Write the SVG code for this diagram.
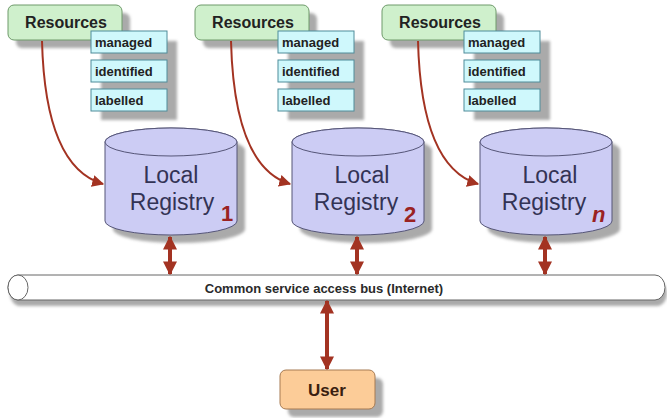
<svg xmlns="http://www.w3.org/2000/svg" width="667" height="418" viewBox="0 0 667 418">
<defs>
<filter id="blur" x="-20%" y="-20%" width="140%" height="140%"><feGaussianBlur stdDeviation="1.5"/></filter>
<marker id="ah" viewBox="0 0 10 10" refX="9" refY="5" markerWidth="3.5" markerHeight="3.5" orient="auto-start-reverse" markerUnits="strokeWidth"><path d="M0,0 L10,5 L0,10 z" fill="#A33322"/></marker>
<marker id="ahc" viewBox="0 0 10 10" refX="9" refY="5" markerWidth="6" markerHeight="6" orient="auto" markerUnits="strokeWidth"><path d="M0,0 L10,5 L0,10 z" fill="#A33322"/></marker>
</defs>
<style>
.res{fill:#CFF0CC;stroke:#6E9A6A;stroke-width:1}
.tag{fill:#CFF8FC;stroke:#4F8C9A;stroke-width:1}
.sh{fill:#AAAAAA;filter:url(#blur)}
.cyl{fill:#CCCCF4;stroke:#555577;stroke-width:1}
.t1{font-family:"Liberation Sans",Arial,sans-serif;font-weight:bold;fill:#222222}
.tg{font-family:"Liberation Sans",Arial,sans-serif;font-weight:bold;fill:#222222;font-size:13px}
.big{font-family:"Liberation Sans",Arial,sans-serif;font-size:23px;fill:#333355}
.sub{font-family:"Liberation Sans",Arial,sans-serif;font-size:22px;font-weight:bold;fill:#9A2222}
.con{fill:none;stroke:#A33322;stroke-width:2}
.dbl{fill:none;stroke:#A33322;stroke-width:4}
</style>

<g id="resources1">
<rect class="sh" x="16" y="13" width="114" height="35" rx="6"/>
<rect class="res" x="8" y="5" width="114" height="35" rx="6"/>
<text class="t1" x="66" y="27.5" font-size="16" text-anchor="middle">Resources</text>
</g>
<g id="tags1">
<rect class="sh" x="101" y="41" width="76" height="79"/>
<rect class="tag" x="91" y="31" width="76" height="22"/>
<text class="tg" x="95" y="46.5">managed</text>
<rect class="tag" x="91" y="60" width="76" height="22"/>
<text class="tg" x="95" y="75.5">identified</text>
<rect class="tag" x="91" y="89" width="76" height="22"/>
<text class="tg" x="95" y="104.5">labelled</text>
</g>

<g id="resources2">
<rect class="sh" x="203" y="13" width="114" height="35" rx="6"/>
<rect class="res" x="195" y="5" width="114" height="35" rx="6"/>
<text class="t1" x="253" y="27.5" font-size="16" text-anchor="middle">Resources</text>
</g>
<g id="tags2">
<rect class="sh" x="288" y="41" width="76" height="79"/>
<rect class="tag" x="278" y="31" width="76" height="22"/>
<text class="tg" x="282" y="46.5">managed</text>
<rect class="tag" x="278" y="60" width="76" height="22"/>
<text class="tg" x="282" y="75.5">identified</text>
<rect class="tag" x="278" y="89" width="76" height="22"/>
<text class="tg" x="282" y="104.5">labelled</text>
</g>

<g id="resources3">
<rect class="sh" x="390" y="13" width="114" height="35" rx="6"/>
<rect class="res" x="382" y="5" width="114" height="35" rx="6"/>
<text class="t1" x="440" y="27.5" font-size="16" text-anchor="middle">Resources</text>
</g>
<g id="tags3">
<rect class="sh" x="474" y="41" width="76" height="79"/>
<rect class="tag" x="464" y="31" width="76" height="22"/>
<text class="tg" x="468" y="46.5">managed</text>
<rect class="tag" x="464" y="60" width="76" height="22"/>
<text class="tg" x="468" y="75.5">identified</text>
<rect class="tag" x="464" y="89" width="76" height="22"/>
<text class="tg" x="468" y="104.5">labelled</text>
</g>

<g id="registry1">
<path class="sh" d="M113,150 A66,14 0 0 1 245,150 L245,229 A66,14 0 0 1 113,229 Z"/>
<path class="cyl" d="M105,142 A66,14 0 0 1 237,142 L237,221 A66,14 0 0 1 105,221 Z"/>
<ellipse class="cyl" cx="171" cy="142" rx="66" ry="14"/>
<text class="big" x="171" y="183" text-anchor="middle">Local</text>
<text class="big" x="172" y="210" text-anchor="middle">Registry</text>
<text class="sub" x="221" y="221">1</text>
</g>
<g id="registry2">
<path class="sh" d="M300,150 A66,14 0 0 1 432,150 L432,229 A66,14 0 0 1 300,229 Z"/>
<path class="cyl" d="M292,142 A66,14 0 0 1 424,142 L424,221 A66,14 0 0 1 292,221 Z"/>
<ellipse class="cyl" cx="358" cy="142" rx="66" ry="14"/>
<text class="big" x="362" y="183" text-anchor="middle">Local</text>
<text class="big" x="356" y="210" text-anchor="middle">Registry</text>
<text class="sub" x="404" y="222">2</text>
</g>
<g id="registryn">
<path class="sh" d="M488,150 A66,14 0 0 1 620,150 L620,229 A66,14 0 0 1 488,229 Z"/>
<path class="cyl" d="M480,142 A66,14 0 0 1 612,142 L612,221 A66,14 0 0 1 480,221 Z"/>
<ellipse class="cyl" cx="546" cy="142" rx="66" ry="14"/>
<text class="big" x="550" y="183" text-anchor="middle">Local</text>
<text class="big" x="544" y="210" text-anchor="middle">Registry</text>
<text class="sub" x="592" y="222" font-style="italic">n</text>
</g>

<g id="bus">
<path class="sh" d="M20,281 L657,281 A10,12.5 0 0 1 657,306 L20,306 A10,12.5 0 0 1 20,281 Z"/>
<path d="M18,275 L655,275 A10,12.5 0 0 1 655,300 L18,300 A10,12.5 0 0 1 18,275 Z" fill="#FFFFFF" stroke="#666666" stroke-width="1"/>
<ellipse cx="18" cy="287.5" rx="10" ry="12.5" fill="#FFFFFF" stroke="#666666" stroke-width="1"/>
<text class="t1" x="324" y="292.5" font-size="13" text-anchor="middle" style="fill:#2a2a2a">Common service access bus (Internet)</text>
</g>

<g id="user">
<rect class="sh" x="288" y="378" width="95" height="39" rx="6"/>
<rect x="280" y="370" width="95" height="39" rx="6" fill="#FCCC98" stroke="#A67A52" stroke-width="1"/>
<text class="t1" x="327" y="396" font-size="17" text-anchor="middle" style="fill:#3A1E10">User</text>
</g>

<g id="connectors">
<path class="con" d="M42,41 C44,120 62,172 103,184" marker-end="url(#ahc)"/>
<path class="con" d="M231,41 C233,120 251,172 290,184" marker-end="url(#ahc)"/>
<path class="con" d="M418,41 C420,120 438,172 478,184" marker-end="url(#ahc)"/>
<path class="dbl" d="M170,237 L170,274" marker-start="url(#ah)" marker-end="url(#ah)"/>
<path class="dbl" d="M357,237 L357,274" marker-start="url(#ah)" marker-end="url(#ah)"/>
<path class="dbl" d="M545,237 L545,274" marker-start="url(#ah)" marker-end="url(#ah)"/>
<path class="dbl" d="M327,301 L327,369" marker-start="url(#ah)" marker-end="url(#ah)"/>
</g>
</svg>
